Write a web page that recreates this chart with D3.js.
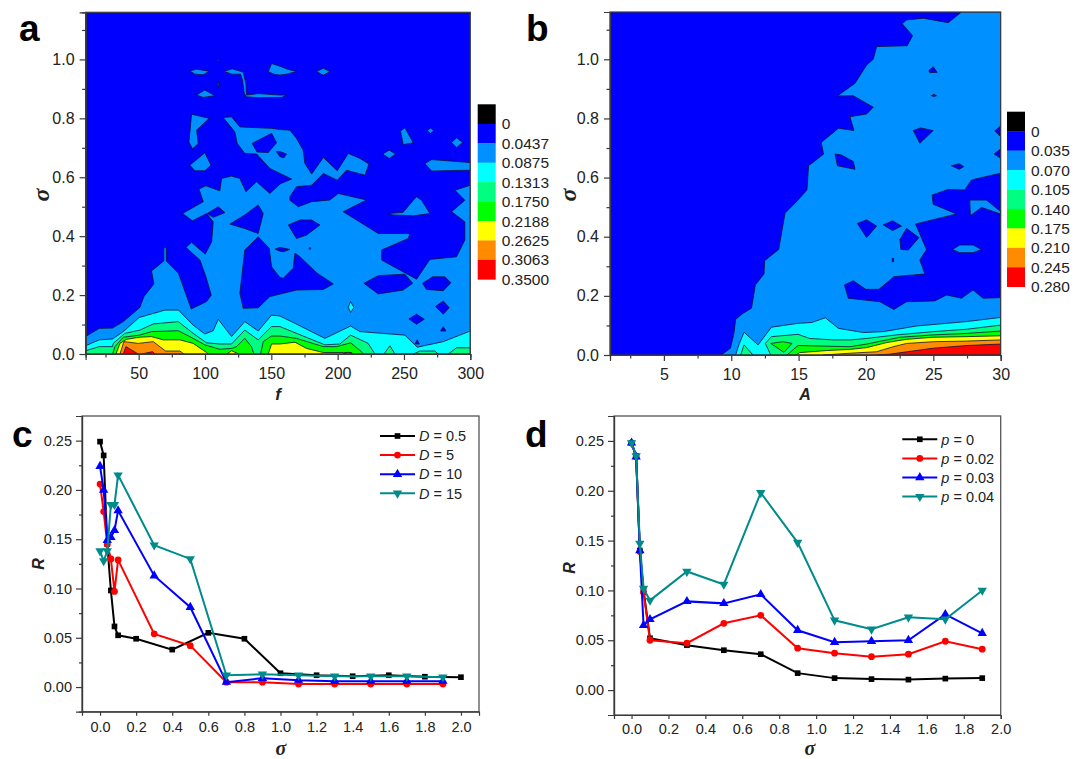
<!DOCTYPE html>
<html>
<head>
<meta charset="utf-8">
<script src="https://cdnjs.cloudflare.com/ajax/libs/d3/7.8.5/d3.min.js"></script>
<style>
  body { margin: 0; background: #fff; }
  text { font-family: "Liberation Sans", Arial, sans-serif; fill: #222; }
</style>
</head>
<body>
<div id="chart"></div>
<script>
// fill colours from the lowest band to the highest, black is the cap of the colour bar
const bandColors = ["#0000ff", "#0090ff", "#00ffff", "#00ff80", "#00ff00", "#ffff00", "#ff8c00", "#ff0000"];
const capColor = "#000000";
const legendA = ["0", "0.0437", "0.0875", "0.1313", "0.1750", "0.2188", "0.2625", "0.3063", "0.3500"];
const legendB = ["0", "0.035", "0.070", "0.105", "0.140", "0.175", "0.210", "0.245", "0.280"];

// contour outlines: [band, [[f, sigma], ...]], painted in this order
const contoursA = [
  [1, [[10,.059],[20.3,.087],[30.3,.088],[38.4,.11],[50.9,.158],[54,.195],[61.5,.238],[59.7,.282],[69,.316],[69,.361],[70.8,.361],[70.8,.316],[80,.274],[89.6,.153],[101.2,.178],[104.7,.2],[100.7,.262],[96.2,.319],[85.6,.362],[89.9,.379],[100.2,.339],[105,.381],[106.2,.449],[101.2,.477],[90.6,.452],[83.1,.477],[98.7,.517],[95.4,.56],[100.7,.571],[111.2,.554],[112.5,.596],[120,.604],[126.3,.596],[130.8,.551],[138.9,.585],[148.9,.545],[156.5,.577],[165.3,.594],[156.5,.613],[148.9,.63],[138.9,.679],[130,.681],[124.3,.715],[122.5,.754],[113.7,.803],[120,.805],[126.3,.771],[150.2,.766],[156.5,.762],[164,.76],[169,.732],[174,.692],[175.3,.647],[180.4,.611],[189.2,.667],[199.7,.622],[208,.681],[216.8,.664],[223.6,.645],[220.6,.607],[206.7,.624],[199.7,.59],[189.2,.613],[180.4,.573],[169,.568],[164,.534],[164,.522],[170.3,.5],[180.4,.517],[194.2,.523],[200.5,.545],[221.8,.523],[204.2,.483],[230.6,.409],[254.5,.409],[253.2,.392],[233.1,.353],[233.1,.319],[259.5,.254],[269.5,.321],[289.6,.33],[295.9,.387],[295.9,.449],[285.9,.483],[295.9,.522],[288.4,.556],[300,.573],[300,0],[10,0]]],
  [1, [[88.6,.961],[93.6,.967],[103.2,.96],[98.7,.948],[92.4,.95]]],
  [1, [[114.2,.959],[120.5,.968],[128.8,.957],[130.8,.918],[131.3,.879],[140.1,.884],[156.5,.879],[161.5,.879],[157.8,.871],[140.1,.87],[131.3,.873],[129.6,.884],[128.3,.93],[126.8,.95],[120.5,.95]]],
  [1, [[93.6,.879],[99.9,.896],[107.5,.877],[98.7,.871]]],
  [1, [[147.7,.958],[150.2,.986],[156.5,.977],[162.8,.966],[169,.959],[161.5,.95],[156.5,.947],[152.7,.949]]],
  [1, [[184.1,.959],[189.2,.97],[194.2,.959],[189.2,.946]]],
  [1, [[89.9,.814],[103.2,.8],[93.7,.76],[94.9,.715],[90.6,.696],[87.9,.72]]],
  [1, [[88.6,.641],[99.9,.683],[104.5,.641],[99.9,.622],[92.4,.622]]],
  [1, [[247.4,.757],[250.7,.768],[257,.717],[249.4,.711]]],
  [1, [[267.5,.758],[270,.767],[272.6,.758],[270,.749]]],
  [1, [[285.9,.718],[289.6,.734],[294.2,.718],[289.6,.701]]],
  [1, [[233.9,.679],[238.9,.692],[243.7,.679],[238.9,.664]]],
  [1, [[265.8,.647],[270.8,.66],[300,.65],[300,.624],[270.8,.621]]],
  [1, [[109.5,.996],[110,1],[110.5,.996],[110,.992]]],
  [1, [[109.5,.915],[110,.925],[110.5,.915],[110,.905]]],
  [0, [[135.6,.715],[150.2,.749],[153.9,.717],[147.7,.684],[139.2,.686]]],
  [0, [[153.9,.687],[156.5,.687],[161.5,.679],[159.5,.666],[156.5,.67]]],
  [0, [[101.7,.477],[110,.5],[115,.48],[106.2,.464]]],
  [0, [[118.8,.441],[130,.472],[140.1,.506],[143.9,.477],[140.1,.409],[130,.426]]],
  [0, [[126.3,.206],[130,.353],[140.1,.398],[148.4,.359],[150.2,.296],[156.5,.26],[159,.257],[166.5,.291],[167.8,.342],[171.6,.33],[184.1,.276],[196.7,.238],[189.2,.219],[169,.217],[148.9,.195],[140.1,.157],[128.8,.155]]],
  [0, [[152.9,.356],[156.5,.362],[164,.355],[159,.347],[156.5,.349]]],
  [0, [[178.5,.358],[179.1,.362],[179.7,.358],[179.1,.354]]],
  [0, [[162.8,.438],[171.6,.455],[180.4,.455],[186.6,.438],[176.6,.404],[169,.392]]],
  [0, [[219.8,.24],[230.6,.266],[250.7,.271],[256.5,.24],[249.4,.217],[230.6,.204]]],
  [0, [[264,.24],[271.6,.262],[280.8,.262],[285.4,.242],[279.6,.215],[267,.219]]],
  [0, [[273.8,.161],[279.6,.18],[284.1,.157],[279.6,.135]]],
  [0, [[253.7,.119],[259.5,.135],[265.3,.118],[259.5,.101]]],
  [0, [[277.6,.078],[279.6,.093],[281.6,.078]]],
  [0, [[258.2,.034],[260,.048],[261.5,.034]]],
  [1, [[238.1,.477],[249.4,.481],[257,.522],[259.5,.534],[263.3,.522],[269.5,.477],[257,.469],[241.9,.472]]],
  [2, [[208,.158],[209.8,.178],[212.3,.158],[209.8,.141]]],
  [2, [[10,.028],[20.3,.048],[30.3,.051],[38.4,.076],[50.4,.124],[69.8,.149],[80,.149],[91.1,.098],[99.9,.068],[106.2,.079],[110,.118],[120,.059],[130,.11],[140.1,.078],[150.2,.132],[156.5,.129],[167.8,.104],[190.4,.053],[209.8,.095],[216.8,.076],[250.7,.064],[260,.023],[279.6,.042],[300,.078],[300,0],[10,0]]],
  [3, [[10,.011],[20.3,.025],[30.3,.025],[30.8,.036],[39.6,.07],[50.9,.081],[61,.102],[79.8,.11],[91.1,.07],[101.2,.038],[111.2,.034],[120,.034],[130,.081],[140.1,.048],[150.2,.093],[156.5,.093],[190.4,.031],[201.7,.034],[209.8,.064],[223,.036],[228.1,0],[10,0]]],
  [3, [[234.9,0],[239.4,.028],[243.2,0]]],
  [3, [[257,0],[262,.01],[273.3,.01],[275.8,0]]],
  [3, [[283.4,0],[289.6,.021],[300,.021],[300,0]]],
  [4, [[30.3,0],[32.1,.025],[38.4,.057],[50.4,.064],[59.7,.076],[79.8,.079],[88.6,.059],[99.9,.031],[111.2,.016],[120,.019],[123.8,.025],[130,.053],[135,.025],[136.9,0]]],
  [4, [[141.9,0],[143.9,.042],[150.2,.061],[156.5,.061],[169,.053],[189.2,.025],[199.2,.025],[209.8,.038],[218,.008],[219.3,0]]],
  [5, [[32.9,0],[35.9,.036],[40.9,.05],[50.9,.057],[59.7,.059],[68.5,.048],[81.1,.048],[91.1,.036],[101.2,.005],[102.4,0]]],
  [5, [[116.3,0],[120,.011],[125.6,0]]],
  [5, [[147.7,0],[150.2,.034],[156.5,.034],[167.8,.04],[176.6,.019],[189.2,.005],[204.2,.005],[210.5,.005],[211.3,0]]],
  [6, [[35.9,0],[38.9,.042],[49.7,.036],[61,.042],[70.3,.01],[81.1,.01],[84.1,0]]],
  [6, [[204.2,0],[208,.006],[211.3,0]]],
  [7, [[38.4,0],[40.4,.025],[49.7,0]]],
  [7, [[52.2,0],[60.5,.008],[62.3,0]]]
];

const contoursB = [
  [1, [[9.27,0],[9.94,.023],[10.2,.073],[10.33,.121],[10.88,.141],[11.5,.158],[11.79,.237],[12.43,.274],[12.48,.319],[13.52,.357],[13.99,.479],[14.95,.524],[15.62,.558],[15.74,.64],[16.85,.679],[16.68,.719],[17.96,.767],[19.11,.759],[18.81,.806],[20.05,.815],[20.54,.838],[19.06,.877],[17.88,.876],[19.19,.919],[20.05,.981],[20.54,1],[20.79,1.043],[23.06,1.046],[23.46,1.08],[22.69,1.12],[23.01,1.133],[24.25,1.139],[26.1,1.124],[27.09,1.16],[30,1.16],[30,0]]],
  [0, [[17.7,.68],[18.2,.676],[19.06,.654],[19.19,.628],[17.88,.64]]],
  [0, [[19.36,.445],[20.05,.457],[20.79,.436],[20.05,.397]]],
  [0, [[21.28,.44],[21.98,.454],[22.64,.436],[21.98,.421]]],
  [0, [[22.52,.391],[23.01,.428],[23.93,.397],[23.14,.355],[22.59,.357]]],
  [0, [[21.95,.327],[22.05,.327],[22.05,.315],[21.95,.315]]],
  [0, [[23.51,.759],[24.05,.768],[24.99,.759],[24,.716]]],
  [0, [[24.67,.962],[24.99,.975],[25.28,.956],[24.74,.955]]],
  [0, [[24.86,.877],[25.04,.882],[25.23,.877],[25.04,.874]]],
  [0, [[26.35,.64],[26.91,.647],[27.26,.637],[26.91,.628]]],
  [0, [[30,.775],[29.56,.758],[30,.738]]],
  [0, [[30,.697],[29.51,.68],[30,.665]]],
  [0, [[18.4,.237],[19.06,.251],[19.98,.222],[20.96,.222],[22.07,.265],[24.37,.274],[24,.321],[24.49,.357],[23.68,.443],[26.72,.477],[24.99,.51],[24.91,.541],[26.1,.56],[27.33,.558],[27.83,.592],[30,.615],[30,.194],[28.69,.192],[27.95,.22],[27.09,.192],[25.98,.203],[25.11,.183],[23.01,.18],[22.07,.154],[21.04,.18],[18.69,.192]]],
  [1, [[26.42,.357],[26.96,.372],[27.95,.372],[28.57,.357],[27.95,.346],[26.96,.346]]],
  [1, [[27.7,.524],[28.94,.524],[30,.485],[30,.477],[28.57,.499],[27.75,.471]]],
  [2, [[10.33,0],[10.56,.034],[10.95,.077],[11.99,.034],[12.98,.094],[14.95,.107],[15.99,.11],[16.98,.126],[17.96,.09],[19.8,.076],[21.28,.079],[23.75,.098],[27.46,.113],[30,.127],[30,0]]],
  [3, [[10.7,0],[10.95,.034],[11.62,0]]],
  [3, [[12.93,0],[12.53,.039],[12.98,.062],[14.95,.07],[15.81,.056],[17.54,.051],[18.84,.051],[20.05,.056],[22.27,.068],[24.99,.079],[27.46,.087],[30,.101],[30,0]]],
  [4, [[12.93,.039],[13.84,.045],[14.51,.039],[13.91,.009]]],
  [4, [[14.14,0],[14.95,.032],[17.05,.03],[18.81,.028],[20.05,.037],[22.52,.06],[24.99,.068],[27.46,.073],[30,.081],[30,0]]],
  [5, [[14.83,0],[15.07,.008],[17.05,.015],[18.84,.019],[20.05,.025],[21.53,.042],[23.01,.053],[24.99,.06],[27.46,.062],[30,.065],[30,0]]],
  [6, [[16.84,0],[18.81,.006],[20.79,.011],[22.02,.028],[23.01,.039],[24.99,.045],[27.46,.047],[30,.051],[30,0]]],
  [7, [[20.79,0],[21.78,.003],[24.99,.023],[27.46,.032],[30,.037],[30,0]]]
];

// panel c, sigma values and R for each D
const sigmaC1 = [0, .02, .04, .06, .08, .1, .2, .4, .6, .8, 1, 1.2, 1.4, 1.6, 1.8, 2];
const sigmaC2 = [0, .02, .04, .06, .08, .1, .3, .5, .7, .9, 1.1, 1.3, 1.5, 1.7, 1.9];
const rD05 = [.249, .235, .145, .098, .0615, .0525, .049, .038, .055, .049, .014, .012, .011, .012, .0105, .010];
const rD5 = [.206, .178, .145, .13, .097, .129, .054, .042, .005, .005, .003, .003, .003, .003, .003];
const rD10 = [.224, .2, .149, .152, .159, .179, .113, .081, .005, .009, .007, .006, .006, .006, .006];
const rD15 = [.138, .128, .138, .185, .185, .215, .144, .13, .012, .013, .012, .011, .011, .011, .01];

// panel d
const sigmaD = [0, .025, .045, .065, .1, .3, .5, .7, .9, 1.1, 1.3, 1.5, 1.7, 1.9];
const rP0 = [.248, .235, .14, .1, .052, .045, .04, .036, .017, .012, .011, .0105, .0115, .012];
const rP02 = [.248, .234, .139, .098, .05, .047, .067, .075, .042, .037, .0335, .036, .049, .041];
const rP03 = [.248, .234, .14, .065, .071, .089, .087, .096, .06, .048, .049, .05, .076, .057];
const rP04 = [.248, .235, .147, .102, .09, .119, .106, .198, .148, .07, .061, .073, .071, .1];

const seriesStyles = [
  { color: "#000000", symbol: d3.symbolSquare, size: 32 },
  { color: "#ff0000", symbol: d3.symbolCircle, size: 36 },
  { color: "#0000ff", symbol: d3.symbolTriangle, size: 38 },
  { color: "#008b8b", symbol: d3.symbolTriangle, size: 38, flip: true }
];

const svg = d3.select("#chart").append("svg").attr("width", 1083).attr("height", 759);

function styleAxis(g, size) {
  g.attr("font-size", size || 10);
  g.selectAll("path, line").attr("stroke", "#3a3a3a").attr("stroke-width", 1.2);
  g.selectAll("text").attr("fill", "#222");
}

function italicTitle(x, y, txt, size, rotate, family) {
  svg.append("text")
    .attr("transform", `translate(${x},${y})${rotate ? " rotate(-90)" : ""}`)
    .attr("text-anchor", "middle")
    .attr("font-style", "italic")
    .attr("font-weight", "bold")
    .attr("font-size", size)
    .style("font-family", family || null)
    .text(txt);
}

function panelLetter(x, y, txt) {
  svg.append("text").attr("x", x).attr("y", y)
    .attr("font-size", 37).attr("font-weight", "bold")
    .style("fill", "#000").text(txt);
}

function drawContourPanel({ id, xDomain, xRange, yRange, xTicks, xMinor, contours, bar, labels }) {
  const x = d3.scaleLinear().domain(xDomain).range(xRange);
  const y = d3.scaleLinear().domain([0, 1.16]).range(yRange);
  const line = d3.line().x(d => x(d[0])).y(d => y(d[1])).curve(d3.curveLinearClosed);

  svg.append("clipPath").attr("id", id)
    .append("rect")
    .attr("x", xRange[0]).attr("y", yRange[1])
    .attr("width", xRange[1] - xRange[0]).attr("height", yRange[0] - yRange[1]);

  const plot = svg.append("g").attr("clip-path", `url(#${id})`);
  plot.append("rect")
    .attr("x", xRange[0]).attr("y", yRange[1])
    .attr("width", xRange[1] - xRange[0]).attr("height", yRange[0] - yRange[1])
    .attr("fill", bandColors[0]);
  plot.selectAll("path")
    .data(contours)
    .join("path")
    .attr("d", d => line(d[1]))
    .attr("fill", d => bandColors[d[0]])
    .attr("stroke", "#10103a")
    .attr("stroke-width", 0.8)
    .attr("stroke-linejoin", "round");

  svg.append("rect")
    .attr("x", xRange[0]).attr("y", yRange[1])
    .attr("width", xRange[1] - xRange[0]).attr("height", yRange[0] - yRange[1])
    .attr("fill", "none").attr("stroke", "#3a3a3a").attr("stroke-width", 1.2);

  svg.append("g").attr("transform", `translate(0,${yRange[0]})`)
    .call(d3.axisBottom(x).tickValues(xMinor).tickSize(3.5).tickFormat(""))
    .call(styleAxis);
  svg.append("g").attr("transform", `translate(0,${yRange[0]})`)
    .call(d3.axisBottom(x).tickValues(xTicks).tickSize(6).tickPadding(8))
    .call(styleAxis, 16);
  svg.append("g").attr("transform", `translate(${xRange[0]},0)`)
    .call(d3.axisLeft(y).tickValues([.1, .3, .5, .7, .9, 1.1]).tickSize(3.5).tickFormat(""))
    .call(styleAxis);
  svg.append("g").attr("transform", `translate(${xRange[0]},0)`)
    .call(d3.axisLeft(y).tickValues([0, .2, .4, .6, .8, 1]).tickSize(6).tickPadding(5).tickFormat(d3.format(".1f")))
    .call(styleAxis, 16);

  // colour bar: black cap then the bands, one step per label
  const barY = d3.scaleBand().domain(d3.range(labels.length)).range([bar.top, bar.top + labels.length * 19.45]);
  const colors = [capColor].concat(bandColors);
  svg.append("g").selectAll("rect")
    .data(colors)
    .join("rect")
    .attr("x", bar.x)
    .attr("y", (d, i) => barY(i))
    .attr("width", 18)
    .attr("height", barY.bandwidth() + 0.3)
    .attr("fill", d => d);
  svg.append("g").attr("font-size", 15.5).selectAll("text")
    .data(labels)
    .join("text")
    .attr("x", bar.x + 24)
    .attr("y", (d, i) => barY(i) + barY.bandwidth())
    .attr("dy", "0.36em")
    .text(d => d);
}

function drawLinePanel({ xRange, yRange, xDomain, padX, series, legendNames, legendVar, legendX, legendY }) {
  const x = d3.scaleLinear().domain(xDomain).range(xRange);
  const y = d3.scaleLinear().domain([-.025, .275]).range(yRange);

  svg.append("rect")
    .attr("x", xRange[0]).attr("y", yRange[1])
    .attr("width", xRange[1] - xRange[0]).attr("height", yRange[0] - yRange[1])
    .attr("fill", "none").attr("stroke", "#555").attr("stroke-width", 1.3);

  svg.append("g").attr("transform", `translate(0,${yRange[0]})`)
    .call(d3.axisBottom(x).tickValues(d3.range(0, 2.01, .2)).tickSize(4).tickPadding(padX).tickFormat(d3.format(".1f")))
    .call(styleAxis, 14.5);
  svg.append("g").attr("transform", `translate(${xRange[0]},0)`)
    .call(d3.axisLeft(y).tickValues([.025, .075, .125, .175, .225]).tickSize(3).tickFormat(""))
    .call(styleAxis);
  svg.append("g").attr("transform", `translate(${xRange[0]},0)`)
    .call(d3.axisLeft(y).tickValues([0, .05, .1, .15, .2, .25]).tickSize(6).tickPadding(4).tickFormat(d3.format(".2f")))
    .call(styleAxis, 14.5);

  const line = d3.line().x(d => x(d[0])).y(d => y(d[1]));

  series.forEach((s, i) => {
    const st = seriesStyles[i];
    const pts = d3.zip(s.xs, s.ys);
    svg.append("path")
      .attr("d", line(pts))
      .attr("fill", "none")
      .attr("stroke", st.color)
      .attr("stroke-width", 2);
    svg.append("g").selectAll("path")
      .data(pts)
      .join("path")
      .attr("d", d3.symbol().type(st.symbol).size(st.size))
      .attr("fill", st.color)
      .attr("transform", d => `translate(${x(d[0])},${y(d[1])})${st.flip ? " rotate(180)" : ""}`);
  });

  // legend
  legendNames.forEach((name, i) => {
    const st = seriesStyles[i];
    const ly = legendY + i * 19.1;
    svg.append("line")
      .attr("x1", legendX).attr("x2", legendX + 35)
      .attr("y1", ly).attr("y2", ly)
      .attr("stroke", st.color).attr("stroke-width", 2);
    svg.append("path")
      .attr("d", d3.symbol().type(st.symbol).size(st.size))
      .attr("fill", st.color)
      .attr("transform", `translate(${legendX + 17.5},${ly})${st.flip ? " rotate(180)" : ""}`);
    const t = svg.append("text")
      .attr("x", legendX + 39).attr("y", ly).attr("dy", "0.36em")
      .attr("font-size", 14.5);
    t.append("tspan").attr("font-style", "italic").text(legendVar);
    t.append("tspan").text(" = " + name);
  });
}

drawContourPanel({
  id: "clipA",
  xDomain: [10, 300], xRange: [85.6, 470.3], yRange: [354, 12.3],
  xTicks: [50, 100, 150, 200, 250, 300], xMinor: [25, 75, 125, 175, 225, 275],
  contours: contoursA, bar: { x: 477.7, top: 104.3 }, labels: legendA
});
drawContourPanel({
  id: "clipB",
  xDomain: [1, 30], xRange: [610, 1000.7], yRange: [355, 12],
  xTicks: [5, 10, 15, 20, 25, 30], xMinor: [2.5, 7.5, 12.5, 17.5, 22.5, 27.5],
  contours: contoursB, bar: { x: 1007, top: 111.7 }, labels: legendB
});

drawLinePanel({
  xRange: [82, 479], yRange: [711.7, 416], xDomain: [-.1, 2.1], padX: 6.5,
  series: [
    { xs: sigmaC1, ys: rD05 }, { xs: sigmaC2, ys: rD5 },
    { xs: sigmaC2, ys: rD10 }, { xs: sigmaC2, ys: rD15 }
  ],
  legendNames: ["0.5", "5", "10", "15"], legendVar: "D", legendX: 380, legendY: 436
});
drawLinePanel({
  xRange: [614, 1000.7], yRange: [715, 416], xDomain: [-.095, 2], padX: 4.5,
  series: [
    { xs: sigmaD, ys: rP0 }, { xs: sigmaD, ys: rP02 },
    { xs: sigmaD, ys: rP03 }, { xs: sigmaD, ys: rP04 }
  ],
  legendNames: ["0", "0.02", "0.03", "0.04"], legendVar: "p", legendX: 902.3, legendY: 439.3
});

italicTitle(278, 400, "f", 17);
italicTitle(805, 400, "A", 16);
italicTitle(49, 195, "\u03c3", 24, true, "Liberation Serif");
italicTitle(576, 195, "\u03c3", 24, true, "Liberation Serif");
italicTitle(44, 564, "R", 16, true);
italicTitle(575, 568, "R", 16, true);
italicTitle(281, 754.5, "\u03c3", 20, false, "Liberation Serif");
italicTitle(810, 754.5, "\u03c3", 20, false, "Liberation Serif");

panelLetter(19, 41, "a");
panelLetter(526, 41, "b");
panelLetter(12, 447, "c");
panelLetter(525, 447, "d");
</script>
</body>
</html>
